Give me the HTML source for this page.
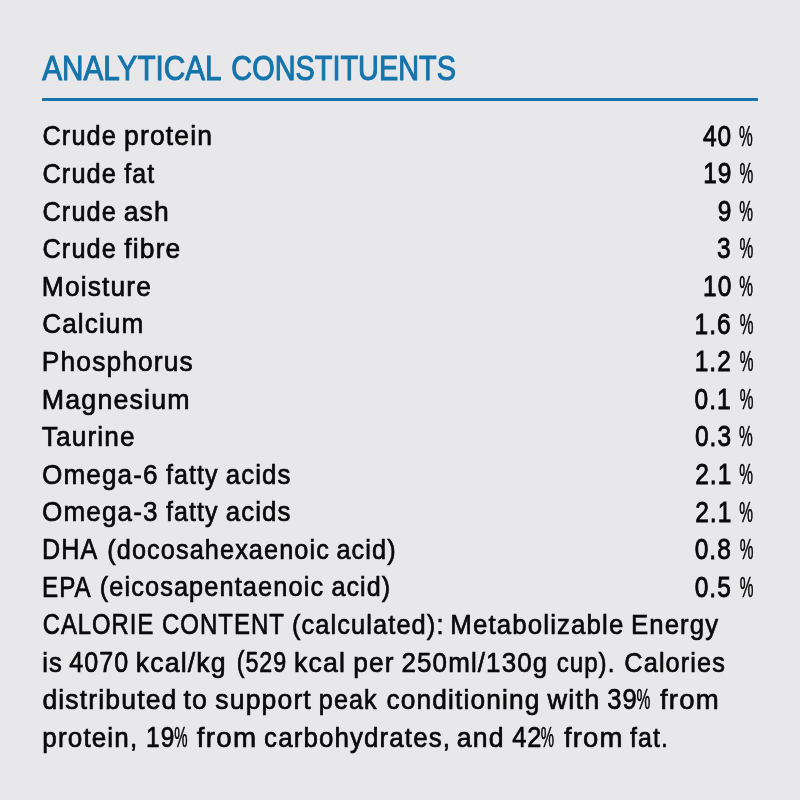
<!DOCTYPE html><html lang="en"><head><meta charset="utf-8"><title>Analytical Constituents</title><style>
html,body{margin:0;padding:0}
body{width:800px;height:800px;background:#e8e8ea;overflow:hidden;position:relative;font-family:"Liberation Sans",sans-serif;color:#0a0a0b}
h1,p,.row,.ln{position:absolute;left:0;top:0;margin:0;padding:0;font-weight:400;white-space:nowrap;font-size:28px;line-height:1}
h1{font-size:34.5px;color:#1674ab}
.w{display:inline-block;white-space:pre;line-height:1;transform-origin:0 0;letter-spacing:1.2px;-webkit-text-stroke:0.6px #0a0a0b;text-shadow:0 0 0.8px rgba(10,10,11,.4)}
.pc{letter-spacing:0;-webkit-text-stroke:0.4px #0a0a0b}
.v{-webkit-text-stroke:0.75px #0a0a0b}
h1 .w{letter-spacing:0px;-webkit-text-stroke:1.0px #1674ab;text-shadow:0 0 0.8px rgba(22,116,171,.4)}
.rule{position:absolute;left:42px;top:97.9px;width:716px;height:2.8px;background:#1674ab}
</style></head><body>
<h1><span class="w" style="transform:translate(42.14px,51.00px) scaleX(0.8614)">ANALYTICAL</span> <span class="w" style="transform:translate(13.30px,51.00px) scaleX(0.8372)">CONSTITUENTS</span></h1>
<div class="rule"></div>
<div class="row"><span class="w" style="transform:translate(42.48px,121.84px) scale(0.9051,1.020)">Crude</span> <span class="w" style="transform:translate(34.03px,121.84px) scale(0.9471,1.020)">protein</span> <span class="w v" style="transform:translate(510.92px,121.34px) scale(0.8738,1.055)">40</span> <span class="w pc" style="transform:translate(506.11px,121.22px) scale(0.5519,1.060)">%</span></div>
<div class="row"><span class="w" style="transform:translate(42.48px,159.44px) scale(0.9051,1.020)">Crude</span> <span class="w" style="transform:translate(34.34px,159.44px) scale(0.8896,1.020)">fat</span> <span class="w v" style="transform:translate(570.20px,158.94px) scale(0.8738,1.055)">19</span> <span class="w pc" style="transform:translate(565.40px,158.82px) scale(0.5519,1.060)">%</span></div>
<div class="row"><span class="w" style="transform:translate(42.48px,197.04px) scale(0.9051,1.020)">Crude</span> <span class="w" style="transform:translate(33.63px,197.04px) scale(0.9463,1.020)">ash</span> <span class="w v" style="transform:translate(570.83px,196.54px) scale(0.8738,1.055)">9</span> <span class="w pc" style="transform:translate(568.15px,196.42px) scale(0.5519,1.060)">%</span></div>
<div class="row"><span class="w" style="transform:translate(42.48px,234.64px) scale(0.9051,1.020)">Crude</span> <span class="w" style="transform:translate(34.34px,234.64px) scale(0.9442,1.020)">fibre</span> <span class="w v" style="transform:translate(559.11px,234.14px) scale(0.8738,1.055)">3</span> <span class="w pc" style="transform:translate(556.43px,234.02px) scale(0.5519,1.060)">%</span></div>
<div class="row"><span class="w" style="transform:translate(41.87px,272.24px) scale(0.9413,1.020)">Moisture</span> <span class="w v" style="transform:translate(578.01px,271.74px) scale(0.8738,1.055)">10</span> <span class="w pc" style="transform:translate(573.21px,271.62px) scale(0.5519,1.060)">%</span></div>
<div class="row"><span class="w" style="transform:translate(42.15px,309.84px) scale(0.9330,1.020)">Calcium</span> <span class="w v" style="transform:translate(577.60px,309.34px) scale(0.8738,1.055)">1.6</span> <span class="w pc" style="transform:translate(571.66px,309.22px) scale(0.5519,1.060)">%</span></div>
<div class="row"><span class="w" style="transform:translate(41.87px,347.44px) scale(0.9413,1.020)">Phosphorus</span> <span class="w v" style="transform:translate(525.69px,346.94px) scale(0.8738,1.055)">1.2</span> <span class="w pc" style="transform:translate(519.75px,346.82px) scale(0.5519,1.060)">%</span></div>
<div class="row"><span class="w" style="transform:translate(41.84px,385.04px) scale(0.9569,1.020)">Magnesium</span> <span class="w v" style="transform:translate(531.60px,384.54px) scale(0.8738,1.055)">0.1</span> <span class="w pc" style="transform:translate(525.66px,384.42px) scale(0.5519,1.060)">%</span></div>
<div class="row"><span class="w" style="transform:translate(41.85px,422.64px) scale(0.9366,1.020)">Taurine</span> <span class="w v" style="transform:translate(586.89px,422.14px) scale(0.8738,1.055)">0.3</span> <span class="w pc" style="transform:translate(580.96px,422.02px) scale(0.5519,1.060)">%</span></div>
<div class="row"><span class="w" style="transform:translate(41.97px,460.24px) scale(0.9320,1.020)">Omega-6</span> <span class="w" style="transform:translate(33.08px,460.24px) scale(0.8924,1.020)">fatty</span> <span class="w" style="transform:translate(25.78px,460.24px) scale(0.9224,1.020)">acids</span> <span class="w v" style="transform:translate(416.14px,459.74px) scale(0.8738,1.055)">2.1</span> <span class="w pc" style="transform:translate(410.21px,459.62px) scale(0.5519,1.060)">%</span></div>
<div class="row"><span class="w" style="transform:translate(41.97px,497.84px) scale(0.9320,1.020)">Omega-3</span> <span class="w" style="transform:translate(33.08px,497.84px) scale(0.8924,1.020)">fatty</span> <span class="w" style="transform:translate(25.78px,497.84px) scale(0.9224,1.020)">acids</span> <span class="w v" style="transform:translate(416.14px,497.33px) scale(0.8738,1.055)">2.1</span> <span class="w pc" style="transform:translate(410.21px,497.22px) scale(0.5519,1.060)">%</span></div>
<div class="row"><span class="w" style="transform:translate(41.95px,534.29px) scale(0.8977,1.070)">DHA</span> <span class="w" style="transform:translate(36.24px,535.44px) scale(0.9035,1.020)">(docosahexaenoic</span> <span class="w" style="transform:translate(11.46px,535.44px) scale(0.9030,1.020)">acid)</span> <span class="w v" style="transform:translate(295.67px,534.94px) scale(0.8738,1.055)">0.8</span> <span class="w pc" style="transform:translate(289.74px,534.82px) scale(0.5519,1.060)">%</span></div>
<div class="row"><span class="w" style="transform:translate(42.02px,571.89px) scale(0.8630,1.070)">EPA</span> <span class="w" style="transform:translate(34.70px,573.04px) scale(0.9063,1.020)">(eicosapentaenoic</span> <span class="w" style="transform:translate(10.42px,573.04px) scale(0.8966,1.020)">acid)</span> <span class="w v" style="transform:translate(299.63px,572.53px) scale(0.8738,1.055)">0.5</span> <span class="w pc" style="transform:translate(293.69px,572.42px) scale(0.5519,1.060)">%</span></div>
<p><span class="ln"><span class="w" style="transform:translate(42.80px,609.49px) scale(0.8488,1.070)">CALORIE</span> <span class="w" style="transform:translate(22.93px,609.49px) scale(0.8564,1.070)">CONTENT</span> <span class="w" style="transform:translate(1.01px,610.64px) scale(0.9073,1.020)">(calculated):</span> <span class="w" style="transform:translate(-16.63px,610.64px) scale(0.9240,1.020)">Metabolizable</span> <span class="w" style="transform:translate(-32.03px,610.64px) scale(0.9194,1.020)">Energy</span></span>
<span class="ln"><span class="w" style="transform:translate(42.26px,648.24px) scale(0.9150,1.020)">is</span> <span class="w" style="transform:translate(39.26px,647.09px) scale(0.8958,1.070)">4070</span> <span class="w" style="transform:translate(30.67px,648.24px) scale(0.9534,1.020)">kcal/kg</span> <span class="w" style="transform:translate(27.64px,647.09px) scale(0.8315,1.070)">(529</span> <span class="w" style="transform:translate(16.96px,648.24px) scale(0.9552,1.020)">kcal</span> <span class="w" style="transform:translate(13.23px,648.24px) scale(0.9394,1.020)">per</span> <span class="w" style="transform:translate(10.49px,648.24px) scale(0.9272,1.020)">250ml/130g</span> <span class="w" style="transform:translate(-1.35px,648.24px) scale(0.8611,1.020)">cup).</span> <span class="w" style="transform:translate(-9.64px,648.24px) scale(0.9039,1.020)">Calories</span></span>
<span class="ln"><span class="w" style="transform:translate(42.42px,685.84px) scale(0.9487,1.020)">distributed</span> <span class="w" style="transform:translate(33.46px,685.84px) scale(0.9574,1.020)">to</span> <span class="w" style="transform:translate(31.31px,685.84px) scale(0.9488,1.020)">support</span> <span class="w" style="transform:translate(25.85px,685.84px) scale(0.8994,1.020)">peak</span> <span class="w" style="transform:translate(19.57px,685.84px) scale(0.9392,1.020)">conditioning</span> <span class="w" style="transform:translate(9.61px,685.84px) scale(0.9665,1.020)">with</span> <span class="w" style="transform:translate(6.19px,684.69px) scale(0.9143,1.070)">39</span><span class="w pc" style="transform:translate(2.41px,684.92px) scale(0.5561,1.060)">%</span> <span class="w" style="transform:translate(-6.98px,685.84px) scale(0.9849,1.020)">from</span></span>
<span class="ln"><span class="w" style="transform:translate(42.35px,723.44px) scale(0.9311,1.020)">protein,</span> <span class="w" style="transform:translate(35.08px,722.29px) scale(0.8729,1.070)">19</span><span class="w pc" style="transform:translate(30.27px,722.52px) scale(0.5348,1.060)">%</span> <span class="w" style="transform:translate(19.86px,723.44px) scale(0.9935,1.020)">from</span> <span class="w" style="transform:translate(18.08px,723.44px) scale(0.9254,1.020)">carbohydrates,</span> <span class="w" style="transform:translate(1.76px,723.44px) scale(0.9519,1.020)">and</span> <span class="w" style="transform:translate(-1.86px,722.29px) scale(0.9069,1.070)">42</span><span class="w pc" style="transform:translate(-6.21px,722.52px) scale(0.5348,1.060)">%</span> <span class="w" style="transform:translate(-16.12px,723.44px) scale(0.9806,1.020)">from</span> <span class="w" style="transform:translate(-17.96px,723.44px) scale(0.8910,1.020)">fat.</span></span></p>
</body></html>
